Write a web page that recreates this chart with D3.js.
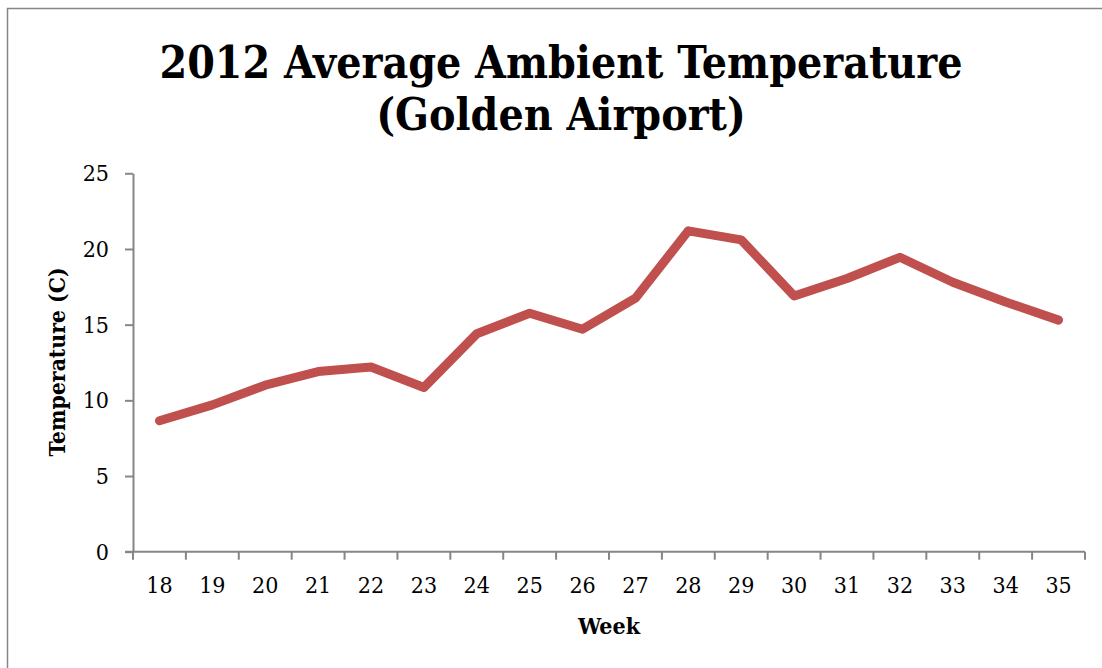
<!DOCTYPE html>
<html>
<head>
<meta charset="utf-8">
<script src="https://cdn.jsdelivr.net/npm/d3@7"></script>
<style>
  html, body { margin: 0; padding: 0; background: #fff; }
  svg { display: block; }
  text { font-family: "DejaVu Serif Condensed", "DejaVu Serif", "Liberation Serif", serif; font-stretch: condensed; fill: #000; }
</style>
</head>
<body>
<svg id="chart" width="1102" height="668"></svg>
<script>
// Weekly average ambient temperature, 2012 (Golden Airport)
const weeks = ["18","19","20","21","22","23","24","25","26","27","28","29","30","31","32","33","34","35"];
const temps = [8.65, 9.7, 11.0, 11.9, 12.2, 10.85, 14.4, 15.75, 14.7, 16.75, 21.2, 20.6, 16.9, 18.05, 19.45, 17.8, 16.5, 15.3];
const yTicks = [0, 5, 10, 15, 20, 25];
const titleLines = ["2012 Average Ambient Temperature", "(Golden Airport)"];

const svg = d3.select("#chart");
const plot = { left: 133, right: 1085, top: 173.3, bottom: 551.7 };
const axisColor = "#868686";

// outer chart frame
svg.append("rect")
  .attr("x", 7.5).attr("y", 8.5)
  .attr("width", 1120).attr("height", 700)
  .attr("fill", "none").attr("stroke", axisColor).attr("stroke-width", 1.5);

const x = d3.scaleBand().domain(weeks).range([plot.left, plot.right]).padding(0);
const y = d3.scaleLinear().domain([0, 25]).range([plot.bottom, plot.top]);

// y axis
const yAxis = svg.append("g")
  .attr("transform", `translate(${plot.left},0)`)
  .call(d3.axisLeft(y).tickValues(yTicks).tickSize(8).tickPadding(16).tickSizeOuter(0));
yAxis.attr("font-family", null).attr("font-size", null);
yAxis.select(".domain").attr("stroke", axisColor).attr("stroke-width", 2);
yAxis.selectAll(".tick line").attr("stroke", axisColor).attr("stroke-width", 2);
yAxis.selectAll(".tick text").attr("font-size", 23).attr("fill", "#000");

// x axis: ticks sit on the category boundaries
const xAxisG = svg.append("g").attr("transform", `translate(0,${plot.bottom})`);
xAxisG.append("line")
  .attr("x1", plot.left - 8).attr("x2", plot.right)
  .attr("stroke", axisColor).attr("stroke-width", 2);
const boundaries = weeks.map(w => x(w)).concat([x(weeks[weeks.length - 1]) + x.bandwidth()]);
xAxisG.selectAll("line.tick").data(boundaries).join("line")
  .attr("class", "tick")
  .attr("x1", d => d).attr("x2", d => d)
  .attr("y1", 0).attr("y2", 8)
  .attr("stroke", axisColor).attr("stroke-width", 2);
xAxisG.selectAll("text").data(weeks).join("text")
  .attr("x", d => x(d) + x.bandwidth() / 2)
  .attr("y", 41)
  .attr("text-anchor", "middle")
  .attr("font-size", 23)
  .text(d => d);

// temperature line
const line = d3.line()
  .x((d, i) => x(weeks[i]) + x.bandwidth() / 2)
  .y(d => y(d));
svg.append("path")
  .datum(temps)
  .attr("d", line)
  .attr("fill", "none")
  .attr("stroke", "#C0504D")
  .attr("stroke-width", 9)
  .attr("stroke-linejoin", "round")
  .attr("stroke-linecap", "round");

// title
svg.append("text")
  .attr("text-anchor", "middle")
  .attr("font-weight", "bold")
  .attr("font-size", 44.2)
  .selectAll("tspan").data(titleLines).join("tspan")
  .attr("x", 561)
  .attr("y", (d, i) => 78 + i * 52)
  .text(d => d);

// axis titles
svg.append("text")
  .attr("transform", "translate(65,362) rotate(-90)")
  .attr("text-anchor", "middle")
  .attr("font-weight", "bold")
  .attr("font-size", 22.7)
  .text("Temperature (C)");

svg.append("text")
  .attr("x", 609).attr("y", 634)
  .attr("text-anchor", "middle")
  .attr("font-weight", "bold")
  .attr("font-size", 23)
  .text("Week");
</script>
</body>
</html>
